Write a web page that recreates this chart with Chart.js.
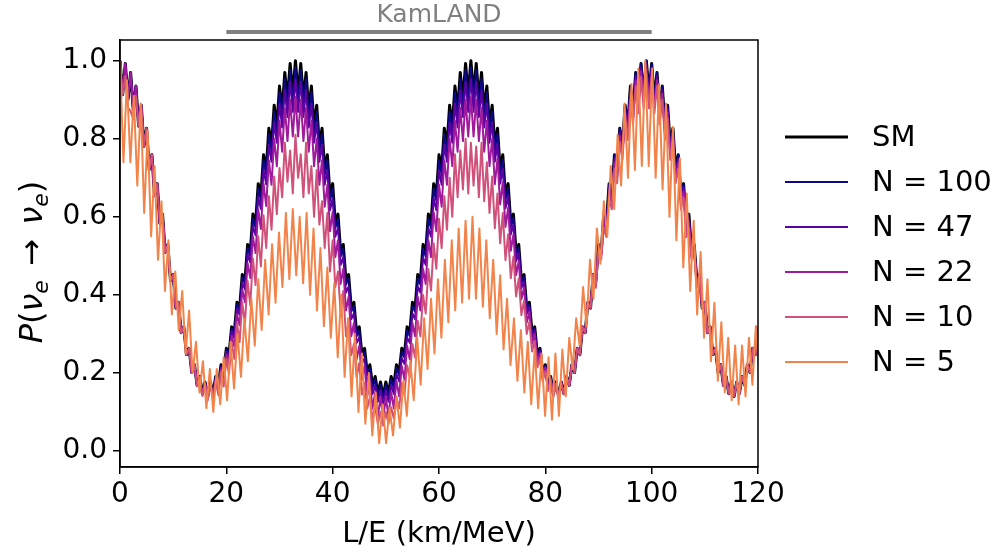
<!DOCTYPE html>
<html>
<head>
<meta charset="utf-8">
<script src="https://cdn.jsdelivr.net/npm/chart.js@4/dist/chart.umd.min.js"></script>
<style>body{margin:0;background:#fff}canvas{display:block}</style>
</head>
<body>
<canvas id="chart" width="1000" height="554"></canvas>
<script>
// L/E grid: 0, 0.5, ... 120 km/MeV for SM and N = 100..10; N = 5 read on a 0.65 grid
var xStep = 0.5;
var xStepN5 = 0.65;
var xTicks = [0, 20, 40, 60, 80, 100, 120];
var yTicks = [0.0, 0.2, 0.4, 0.6, 0.8, 1.0];
var kamland = [20, 100];

var sm = [
 1.000,0.913,0.993,0.900,0.970,0.872,0.935,0.832,0.886,0.781,0.827,0.721,0.759,0.654,0.685,0.583,0.607,0.509,0.529,0.436,0.452,0.366,0.381,0.303,0.318,0.247,0.263,0.201,0.221,0.168,0.191,0.147,0.177,0.140,
 0.177,0.147,0.191,0.168,0.221,0.201,0.263,0.247,0.318,0.303,0.381,0.366,0.452,0.436,0.529,0.509,0.607,0.583,0.685,0.654,0.759,0.721,0.827,0.781,0.886,0.832,0.935,0.872,0.970,0.900,0.993,0.913,
 1.000,0.913,0.993,0.900,0.970,0.872,0.935,0.832,0.886,0.781,0.827,0.721,0.759,0.654,0.685,0.583,0.607,0.509,0.529,0.436,0.452,0.366,0.381,0.303,0.318,0.247,0.263,0.201,0.221,0.168,0.191,0.147,0.177,0.140,
 0.177,0.147,0.191,0.168,0.221,0.201,0.263,0.247,0.318,0.303,0.381,0.366,0.452,0.436,0.529,0.509,0.607,0.583,0.685,0.654,0.759,0.721,0.827,0.781,0.886,0.832,0.935,0.872,0.970,0.900,0.993,0.913,
 1.000,0.913,0.993,0.900,0.970,0.872,0.935,0.832,0.886,0.781,0.827,0.721,0.759,0.654,0.685,0.583,0.607,0.509,0.529,0.436,0.452,0.366,0.381,0.303,0.318,0.247,0.263,0.201,0.221,0.168,0.191,0.147,0.177,0.140,
 0.177,0.147,0.191,0.168,0.221,0.201,0.263,0.247,0.318,0.303,0.381,0.366,0.452,0.436,0.529,0.509,0.607,0.583,0.685,0.654,0.759,0.721,0.827,0.781,0.886,0.832,0.935,0.872,0.970,0.900,0.993,0.913,
 1.000,0.913,0.993,0.900,0.970,0.872,0.935,0.832,0.886,0.781,0.827,0.721,0.759,0.654,0.685,0.583,0.607,0.509,0.529,0.436,0.452,0.366,0.381,0.303,0.318,0.247,0.263,0.201,0.221,0.168,0.191,0.147,0.177,0.140,
 0.177,0.147,0.191,0.168,0.221,0.201,0.263,0.247,0.318
];

var n100 = [
 1.000,0.913,0.993,0.900,0.970,0.872,0.935,0.832,0.886,0.781,0.827,0.721,0.759,0.654,0.685,0.583,0.607,0.509,0.529,0.436,0.452,0.366,0.381,0.303,0.318,0.247,0.263,0.201,0.221,
 0.168,0.191,0.147,0.176,0.139,0.176,0.146,0.190,0.166,0.219,0.199,0.260,0.244,0.314,0.299,0.376,0.360,0.445,0.429,0.520,0.500,0.597,0.572,0.673,0.642,0.745,0.708,
 0.812,0.767,0.870,0.817,0.919,0.857,0.953,0.884,0.976,0.897,0.983,0.897,0.976,0.884,0.953,0.857,0.919,0.817,0.870,0.767,0.812,0.707,0.745,0.641,0.672,0.571,0.595,0.498,0.518,0.426,0.442,0.357,0.371,0.294,0.309,0.239,0.255,0.194,0.213,0.161,0.184,0.140,0.170,0.133,
 0.170,0.140,0.184,0.161,0.213,0.194,0.255,0.239,0.309,0.294,0.371,0.357,0.442,0.426,0.518,0.498,0.595,0.571,0.672,0.641,0.745,0.707,0.812,0.767,0.870,0.817,0.919,0.857,0.953,0.884,0.976,0.897,0.983,0.897,0.976,0.884,0.953,0.857,0.919,0.817,0.870,
 0.767,0.813,0.708,0.746,0.643,0.674,0.573,0.598,0.501,0.521,0.430,0.446,0.361,0.376,0.299,0.315,0.244,0.261,0.199,0.219,0.167,0.190,0.146,0.176,0.140,0.177,0.147,
 0.191,0.168,0.221,0.201,0.263,0.247,0.318,0.303,0.381,0.366,0.452,0.436,0.529,0.509,0.607,0.583,0.685,0.654,0.759,0.721,0.827,0.781,0.886,0.832,0.935,0.872,0.970,0.900,0.993,0.913,1.000,0.913,0.993,0.900,0.970,0.872,0.935,0.832,0.886,0.781,0.827,0.721,0.759,0.654,0.685,0.583,0.607,0.509,0.529,0.436,0.452,
 0.366,0.381,0.303,0.318,0.247,0.263,0.201,0.221,0.168,0.191,0.147,0.177,0.140,0.177,0.147,0.191,0.168,0.221,0.201,0.263,0.247,0.318
];

var n47 = [
 1.000,0.913,0.993,0.900,0.970,0.872,0.935,0.832,0.886,0.781,0.827,0.721,0.759,0.654,0.685,0.583,0.607,0.509,0.529,0.436,0.452,0.366,0.381,0.303,0.318,0.247,0.263,0.201,0.221,
 0.168,0.190,0.146,0.175,0.138,0.174,0.144,0.187,0.163,0.214,0.194,0.254,0.237,0.306,0.289,0.365,0.349,0.432,0.414,0.504,0.483,0.577,0.553,0.651,0.620,0.721,0.683,
 0.785,0.741,0.842,0.790,0.890,0.829,0.924,0.856,0.946,0.869,0.953,0.869,0.946,0.856,0.924,0.829,0.890,0.790,0.842,0.741,0.785,0.682,0.719,0.617,0.647,0.549,0.572,0.477,0.496,0.406,0.421,0.338,0.353,0.277,0.291,0.223,0.238,0.178,0.197,0.146,0.168,0.126,0.155,0.119,
 0.155,0.126,0.168,0.146,0.197,0.178,0.238,0.223,0.291,0.277,0.353,0.338,0.421,0.406,0.496,0.477,0.572,0.549,0.647,0.617,0.719,0.682,0.785,0.741,0.842,0.790,0.890,0.829,0.924,0.856,0.946,0.869,0.953,0.869,0.946,0.856,0.924,0.829,0.890,0.790,0.842,
 0.741,0.787,0.685,0.723,0.622,0.653,0.555,0.580,0.486,0.507,0.417,0.435,0.351,0.368,0.292,0.308,0.239,0.256,0.195,0.216,0.164,0.188,0.145,0.175,0.139,0.176,0.147,
 0.191,0.168,0.221,0.201,0.263,0.247,0.318,0.303,0.381,0.366,0.452,
 0.431,0.524,0.504,0.597,0.573,0.675,0.644,0.749,0.711,0.817,0.771,0.876,0.822,0.925,0.862,0.960,0.890,0.983,0.903,0.990,0.903,0.983,0.890,0.960,0.862,0.925,0.822,0.876,0.771,0.817,0.711,0.749,0.644,0.675,0.573,0.597,0.504,0.524,0.431,
 0.452,0.366,0.381,0.303,0.318,0.247,0.263,0.201,0.221,0.168,0.191,0.147,0.177,0.140,0.177,0.147,0.191,0.168,0.221,0.201,0.263,0.247,0.318
];

var n22 = [
 1.000,0.913,0.993,0.900,0.970,0.872,0.935,0.832,0.886,0.781,0.827,0.721,0.759,0.654,0.685,0.583,0.607,0.509,0.529,0.436,0.452,0.366,0.381,0.303,0.318,0.247,0.263,0.201,0.221,
 0.167,0.189,0.144,0.174,0.134,0.172,0.138,0.183,0.154,0.209,0.181,0.246,0.220,0.295,0.268,0.351,0.322,0.414,0.381,0.481,0.443,0.550,0.507,0.619,0.569,0.685,0.628,
 0.745,0.682,0.800,0.730,0.846,0.767,0.879,0.794,0.900,0.806,0.907,0.806,0.900,0.794,0.879,0.767,0.846,0.730,0.800,0.682,0.745,0.626,0.682,0.563,0.612,0.497,0.540,0.428,0.467,0.360,0.395,0.294,0.328,0.235,0.269,0.183,0.218,0.140,0.179,0.109,0.151,0.089,0.137,0.083,
 0.137,0.089,0.151,0.109,0.179,0.140,0.218,0.183,0.269,0.235,0.328,0.294,0.395,0.360,0.467,0.428,0.540,0.497,0.612,0.563,0.682,0.626,0.745,0.682,0.800,0.730,0.846,0.767,0.879,0.794,0.900,0.806,0.907,0.806,0.900,0.794,0.879,0.767,0.846,0.730,0.800,
 0.684,0.749,0.632,0.689,0.574,0.623,0.513,0.555,0.451,0.487,0.389,0.419,0.329,0.356,0.275,0.300,0.227,0.250,0.186,0.213,0.159,0.186,0.141,0.174,0.137,0.175,0.146,
 0.191,0.168,0.221,0.201,0.263,0.247,0.318,0.303,0.381,0.366,0.452,
 0.426,0.519,0.499,0.587,0.563,0.665,0.634,0.739,0.701,0.807,0.761,0.866,0.812,0.915,0.852,0.950,0.880,0.973,0.893,0.980,0.893,0.973,0.880,0.950,0.852,0.915,0.812,0.866,0.761,0.807,0.701,0.739,0.634,0.665,0.563,0.587,0.499,0.519,0.426,
 0.452,0.366,0.381,0.303,0.318,0.247,0.263,0.201,0.221,0.168,0.191,0.147,0.177,0.140,0.177,0.147,0.191,0.168,0.221,0.201,0.263,0.247,0.318
];

var n10 = [
 1.000,0.913,0.960,0.880,0.870,0.850,0.910,0.832,0.886,0.781,0.827,0.721,0.759,0.654,0.685,0.583,0.607,0.509,0.529,0.436,0.452,0.366,0.381,0.303,0.318,0.247,0.263,0.201,0.221,
 0.166,0.189,0.141,0.172,0.130,0.170,0.131,0.179,0.143,0.203,0.165,0.236,0.197,0.279,0.236,0.328,0.279,0.381,0.326,0.436,0.374,0.493,0.425,0.550,0.473,0.604,0.520,
 0.653,0.567,0.703,0.607,0.725,0.650,0.790,0.690,0.770,0.660,0.810,0.700,0.760,0.650,0.790,0.660,0.730,0.600,0.720,0.580,0.640,0.520,0.610,0.460,0.540,0.420,0.460,0.352,0.410,0.294,0.330,0.245,0.274,0.189,0.225,0.145,0.174,0.109,0.138,0.083,0.112,0.070,0.100,0.065,
 0.100,0.070,0.112,0.083,0.138,0.109,0.174,0.145,0.220,0.189,0.274,0.239,0.334,0.294,0.400,0.352,0.466,0.411,0.532,0.467,0.595,0.520,0.653,0.567,0.700,0.600,0.760,0.650,0.770,0.670,0.800,0.660,0.790,0.680,0.780,0.650,0.790,0.640,0.740,0.610,0.703,
 0.571,0.660,0.532,0.610,0.489,0.555,0.443,0.498,0.396,0.442,0.348,0.385,0.300,0.331,0.255,0.282,0.214,0.238,0.179,0.204,0.154,0.181,0.139,0.171,0.135,0.174,0.145,
 0.191,0.168,0.221,0.201,0.263,0.247,0.318,0.303,0.381,0.366,0.452,
 0.418,0.511,0.491,0.572,0.548,0.650,0.619,0.724,0.686,0.792,0.746,0.851,0.797,0.900,0.837,0.935,0.865,0.958,0.878,0.965,0.878,0.958,0.865,0.935,0.837,0.900,0.797,0.851,0.746,0.792,0.686,0.724,0.619,0.650,0.548,0.572,0.491,0.511,0.418,
 0.452,0.366,0.381,0.303,0.318,0.247,0.263,0.201,0.221,0.168,0.191,0.147,0.177,0.140,0.177,0.147,0.191,0.168,0.221,0.201,0.263,0.247,0.318
];

var n5 = [
 1.00,0.74,0.95,0.74,0.91,0.68,0.89,0.61,0.82,0.55,
 0.73,0.49,0.64,0.41,0.54,0.35,0.46,0.31,0.41,0.25,
 0.36,0.20,0.28,0.15,0.23,0.11,0.21,0.10,0.21,0.12,
 0.24,0.13,0.28,0.16,0.30,0.19,0.34,0.23,0.39,0.27,
 0.44,0.31,0.49,0.35,0.53,0.38,0.56,0.42,0.61,0.44,
 0.62,0.45,0.60,0.43,0.61,0.40,0.57,0.36,0.52,0.32,
 0.47,0.29,0.43,0.24,0.40,0.19,0.34,0.14,0.30,0.10,
 0.25,0.07,0.20,0.04,0.15,0.02,0.12,0.02,0.11,0.04,
 0.14,0.06,0.18,0.09,0.23,0.13,0.29,0.17,0.34,0.21,
 0.39,0.25,0.44,0.29,0.49,0.33,0.54,0.36,0.57,0.38,
 0.59,0.39,0.60,0.39,0.57,0.37,0.54,0.34,0.49,0.30,
 0.45,0.26,0.39,0.22,0.34,0.18,0.31,0.15,0.28,0.12,
 0.26,0.11,0.25,0.09,0.24,0.08,0.25,0.09,0.26,0.14,
 0.29,0.21,0.34,0.27,0.42,0.32,0.49,0.39,0.57,0.48,
 0.64,0.55,0.73,0.62,0.81,0.68,0.89,0.70,0.94,0.72,
 0.98,0.73,1.00,0.73,0.98,0.70,0.94,0.67,0.89,0.60,
 0.83,0.54,0.75,0.47,0.66,0.41,0.59,0.35,0.51,0.29,
 0.44,0.23,0.38,0.18,0.33,0.15,0.29,0.13,0.27,0.12,
 0.27,0.14,0.29,0.17,0.32,0.19
];

var labels = ['SM', 'N = 100', 'N = 47', 'N = 22', 'N = 10', 'N = 5'];
var colors = ['#000000', '#0d0887', '#5b02a3', '#a01a9c', '#d0527a', '#f2844b'];

Chart.defaults.font.family = '"DejaVu Sans", sans-serif';

function toPoints(arr, step) {
  return arr.map(function (y, i) { return { x: Math.round(i * step * 100) / 100, y: y }; });
}

var series = [sm, n100, n47, n22, n10, n5];
var datasets = series.map(function (arr, i) {
  return {
    label: labels[i],
    data: toPoints(arr, i == 5 ? xStepN5 : xStep),
    borderColor: colors[i],
    borderWidth: i == 0 ? 3 : 2,
    pointRadius: 0,
    tension: 0,
    fill: false,
    borderJoinStyle: 'round',
    order: 6 - i
  };
});

function drawYLabel(ctx, cx, cy, size) {
  var parts = [
    { t: 'P', it: true }, { t: '(', it: false }, { t: 'ν', it: true }, { t: 'e', it: true, sub: true },
    { gap: 0.45 }, { t: '→', it: false }, { gap: 0.45 },
    { t: 'ν', it: true }, { t: 'e', it: true, sub: true }, { t: ')', it: false }
  ];
  function font(p) {
    return (p.it ? 'italic ' : '') + Math.round(p.sub ? size * 0.7 : size) + 'px "DejaVu Sans"';
  }
  ctx.save();
  ctx.translate(cx, cy);
  ctx.rotate(-Math.PI / 2);
  ctx.fillStyle = '#000';
  ctx.textAlign = 'left';
  ctx.textBaseline = 'alphabetic';
  var w = 0;
  parts.forEach(function (p) {
    if (p.gap) { p.w = p.gap * size; } else { ctx.font = font(p); p.w = ctx.measureText(p.t).width; }
    w += p.w;
  });
  var x = -w / 2;
  parts.forEach(function (p) {
    if (!p.gap) {
      ctx.font = font(p);
      ctx.fillText(p.t, x, size * 0.36 + (p.sub ? size * 0.2 : 0));
    }
    x += p.w;
  });
  ctx.restore();
}

var decor = {
  id: 'decor',
  beforeDraw: function (chart) {
    var c = chart.ctx;
    c.save();
    c.fillStyle = '#fff';
    c.fillRect(0, 0, chart.width, chart.height);
    c.restore();
  },
  afterDraw: function (chart) {
    var ctx = chart.ctx, a = chart.chartArea, xs = chart.scales.x;
    ctx.save();
    ctx.strokeStyle = '#000';
    ctx.lineWidth = 1.5;
    ctx.strokeRect(a.left, a.top, a.right - a.left, a.bottom - a.top);

    // KamLAND range
    var k0 = xs.getPixelForValue(kamland[0]), k1 = xs.getPixelForValue(kamland[1]);
    ctx.strokeStyle = '#808080';
    ctx.lineWidth = 4;
    ctx.beginPath();
    ctx.moveTo(k0, 32);
    ctx.lineTo(k1, 32);
    ctx.stroke();
    ctx.fillStyle = '#808080';
    ctx.font = '25px "DejaVu Sans"';
    ctx.textAlign = 'center';
    ctx.textBaseline = 'middle';
    ctx.fillText('KamLAND', (k0 + k1) / 2, 15);

    // legend
    ctx.textAlign = 'left';
    ctx.font = '29px "DejaVu Sans"';
    chart.data.datasets.forEach(function (ds, i) {
      var y = 137 + i * 45;
      ctx.strokeStyle = ds.borderColor;
      ctx.lineWidth = ds.borderWidth;
      ctx.beginPath();
      ctx.moveTo(785, y);
      ctx.lineTo(848, y);
      ctx.stroke();
      ctx.fillStyle = '#000';
      ctx.fillText(ds.label, 872, y + 1);
    });
    ctx.restore();

    drawYLabel(ctx, 30, 262, 32);
  }
};

new Chart(document.getElementById('chart'), {
  type: 'line',
  data: { datasets: datasets },
  options: {
    responsive: false,
    animation: false,
    devicePixelRatio: 1,
    layout: { padding: { left: 0, right: 242, top: 40, bottom: 0 } },
    plugins: { legend: { display: false }, tooltip: { enabled: false } },
    scales: {
      x: {
        type: 'linear',
        min: 0,
        max: 120,
        afterBuildTicks: function (s) { s.ticks = xTicks.map(function (v) { return { value: v }; }); },
        afterFit: function (s) { s.height = 87; },
        ticks: { color: '#000', font: { size: 28 }, padding: 4, maxRotation: 0, autoSkip: false,
                 callback: function (v) { return String(v); } },
        grid: { drawOnChartArea: false, drawTicks: true, tickLength: 7, tickWidth: 1.5, tickColor: '#000', lineWidth: 1.5 },
        border: { display: true, color: '#000', width: 1.5 },
        title: { display: true, text: 'L/E (km/MeV)', color: '#000', font: { size: 29 }, padding: { top: 0, bottom: 2 } }
      },
      y: {
        type: 'linear',
        min: -0.041,
        max: 1.053,
        afterBuildTicks: function (s) { s.ticks = yTicks.map(function (v) { return { value: v }; }); },
        afterFit: function (s) { s.width = 120; },
        ticks: { color: '#000', font: { size: 28 }, padding: 6,
                 callback: function (v) { return v.toFixed(1); } },
        grid: { drawOnChartArea: false, drawTicks: true, tickLength: 7, tickWidth: 1.5, tickColor: '#000', lineWidth: 1.5 },
        border: { display: true, color: '#000', width: 1.5 }
      }
    }
  },
  plugins: [decor]
});
</script>
</body>
</html>
